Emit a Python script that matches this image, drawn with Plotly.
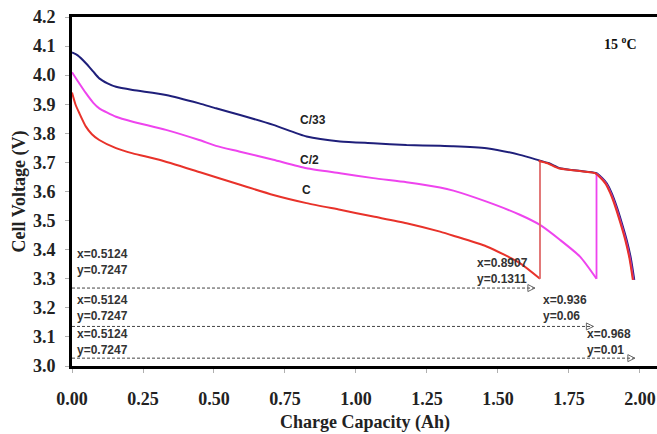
import plotly.graph_objects as go

# ---- data ----
c33_x = [0.0, 0.02, 0.049, 0.075, 0.096, 0.125, 0.155, 0.214, 0.331, 0.448, 0.507, 0.592,
         0.709, 0.826, 0.944, 1.061, 1.178, 1.296, 1.343, 1.46, 1.577, 1.648]
c33_y = [4.078, 4.068, 4.041, 4.012, 3.989, 3.972, 3.96, 3.949, 3.932, 3.903, 3.886, 3.863,
         3.829, 3.789, 3.772, 3.766, 3.76, 3.757, 3.756, 3.749, 3.726, 3.706]

tail_x = [1.648, 1.68, 1.718, 1.76, 1.812, 1.847, 1.865, 1.883, 1.90, 1.918, 1.935, 1.953, 1.968, 1.98]
tail_y = [3.706, 3.697, 3.68, 3.674, 3.668, 3.663, 3.648, 3.628, 3.595, 3.548, 3.495, 3.434, 3.37, 3.296]

c2_x = [0.0, 0.02, 0.049, 0.075, 0.096, 0.155, 0.214, 0.331, 0.448, 0.507, 0.592, 0.709,
        0.826, 0.944, 1.061, 1.178, 1.296, 1.343, 1.46, 1.577, 1.648, 1.718, 1.789, 1.847]
c2_y = [4.01, 3.98, 3.938, 3.905, 3.886, 3.857, 3.84, 3.812, 3.777, 3.757, 3.737, 3.709,
        3.68, 3.663, 3.646, 3.632, 3.614, 3.603, 3.565, 3.52, 3.485, 3.434, 3.376, 3.30]

c1_x = [0.0, 0.012, 0.026, 0.049, 0.07, 0.096, 0.155, 0.214, 0.307, 0.451, 0.592, 0.709,
        0.826, 0.944, 1.061, 1.178, 1.296, 1.343, 1.46, 1.577, 1.648]
c1_y = [3.94, 3.90, 3.869, 3.823, 3.797, 3.777, 3.749, 3.731, 3.709, 3.666, 3.623, 3.588,
        3.56, 3.537, 3.514, 3.491, 3.462, 3.448, 3.411, 3.354, 3.30]

# dashed reference arrows (y level, end x)
arrow_y = [3.268, 3.136, 3.027]
arrow_end = [1.63, 1.836, 1.982]
left_labels = ["x=0.5124<br>y=0.7247"] * 3
left_label_y = [3.356, 3.20, 3.081]
right_labels = ["x=0.8907<br>y=0.1311", "x=0.936<br>y=0.06", "x=0.968<br>y=0.01"]
right_label_x = [1.419, 1.651, 1.806]
right_label_y = [3.327, 3.20, 3.081]

series_names = ["C/33", "C/2", "C"]
series_label_x = [0.796, 0.796, 0.803]
series_label_y = [3.845, 3.709, 3.605]

x_ticks = [0.0, 0.25, 0.5, 0.75, 1.0, 1.25, 1.5, 1.75, 2.0]
y_ticks = [3.0, 3.1, 3.2, 3.3, 3.4, 3.5, 3.6, 3.7, 3.8, 3.9, 4.0, 4.1, 4.2]

NAVY = "#1f1f7a"
MAG = "#ee44ee"
RED = "#e8322a"
SM = 0.6

fig = go.Figure()

# dashed arrows
for yv, xe in zip(arrow_y, arrow_end):
    fig.add_trace(go.Scatter(x=[0.0, xe], y=[yv, yv], mode="lines",
                             line=dict(color="#444444", width=1, dash="3px,2px"),
                             hoverinfo="skip", showlegend=False))
    fig.add_trace(go.Scatter(x=[xe], y=[yv], mode="markers",
                             marker=dict(symbol="arrow-right-open", size=7,
                                         color="#666666", line=dict(width=1, color="#666666")),
                             hoverinfo="skip", showlegend=False))

# C/33
fig.add_trace(go.Scatter(x=c33_x + tail_x[1:], y=c33_y + tail_y[1:], mode="lines",
                         line=dict(color=NAVY, width=2, shape="spline", smoothing=SM),
                         showlegend=False))
# C/2
fig.add_trace(go.Scatter(x=c2_x, y=c2_y, mode="lines",
                         line=dict(color=MAG, width=2, shape="spline", smoothing=SM),
                         showlegend=False))
fig.add_trace(go.Scatter(x=[c2_x[-1], c2_x[-1]], y=[c2_y[-1], tail_y[5]], mode="lines",
                         line=dict(color=MAG, width=1.8), showlegend=False))
fig.add_trace(go.Scatter(x=[t - 0.003 for t in tail_x[5:]], y=tail_y[5:], mode="lines",
                         line=dict(color="#c03ac8", width=2, shape="spline", smoothing=SM),
                         showlegend=False))
# C
fig.add_trace(go.Scatter(x=c1_x, y=c1_y, mode="lines",
                         line=dict(color=RED, width=2, shape="spline", smoothing=SM),
                         showlegend=False))
fig.add_trace(go.Scatter(x=[c1_x[-1], c1_x[-1]], y=[c1_y[-1], tail_y[0]], mode="lines",
                         line=dict(color="#e06a6a", width=1.8), showlegend=False))
fig.add_trace(go.Scatter(x=[t - 0.005 for t in tail_x], y=tail_y, mode="lines",
                         line=dict(color=RED, width=2, shape="spline", smoothing=SM),
                         showlegend=False))

ann_font = dict(family="Liberation Sans, Arial", size=12, color="#333333")
annotations = []
for txt, yv in zip(left_labels, left_label_y):
    annotations.append(dict(x=0.012, y=yv, text="<b>" + txt + "</b>", showarrow=False,
                            xanchor="left", yanchor="middle", align="left", font=ann_font))
for txt, xv, yv in zip(right_labels, right_label_x, right_label_y):
    annotations.append(dict(x=xv, y=yv, text="<b>" + txt + "</b>", showarrow=False,
                            xanchor="left", yanchor="middle", align="left", font=ann_font))
for txt, xv, yv in zip(series_names, series_label_x, series_label_y):
    annotations.append(dict(x=xv, y=yv, text="<b>" + txt + "</b>", showarrow=False,
                            xanchor="left", yanchor="middle",
                            font=dict(family="Liberation Sans, Arial", size=12, color="#222222")))
serif = "Liberation Serif, Times New Roman"
annotations.append(dict(x=1.93, y=4.11, text="<b>15 <sup>o</sup>C</b>", showarrow=False,
                        xanchor="center", yanchor="middle",
                        font=dict(family=serif, size=14, color="#111111")))
annotations.append(dict(xref="paper", yref="paper", x=0.5, y=-0.163,
                        text="<b>Charge Capacity (Ah)</b>", showarrow=False,
                        xanchor="center", yanchor="middle",
                        font=dict(family=serif, size=18, color="#222222")))
annotations.append(dict(xref="paper", yref="paper", x=-0.089, y=0.5, textangle=-90,
                        text="<b>Cell Voltage (V)</b>", showarrow=False,
                        xanchor="center", yanchor="middle",
                        font=dict(family=serif, size=18, color="#222222")))

fig.update_layout(
    width=657, height=434,
    margin=dict(l=72, r=0, t=17, b=68),
    paper_bgcolor="white", plot_bgcolor="white",
    annotations=annotations,
    xaxis=dict(range=[0, 2.06], tickvals=x_ticks, ticktext=[f"<b>{v:.2f}</b>" for v in x_ticks],
               showgrid=False, zeroline=False, showline=True, linecolor="black", linewidth=3,
               mirror=True, ticks="outside", ticklen=4, tickcolor="#b0b0b0", tickwidth=1,
               ticklabelstandoff=10, automargin=False,
               tickfont=dict(family=serif, size=18, color="#222222")),
    yaxis=dict(range=[3.0, 4.2], tickvals=y_ticks, ticktext=[f"<b>{v:.1f}</b>" for v in y_ticks],
               showgrid=False, zeroline=False, showline=True, linecolor="black", linewidth=3,
               ticks="outside", ticklen=4, tickcolor="#b0b0b0", tickwidth=1,
               ticklabelstandoff=6, automargin=False,
               tickfont=dict(family=serif, size=18, color="#222222")),
)

fig.write_html("out.html", config={"displayModeBar": False},
               post_script="document.body.style.margin='0px';document.body.style.overflow='hidden';")
